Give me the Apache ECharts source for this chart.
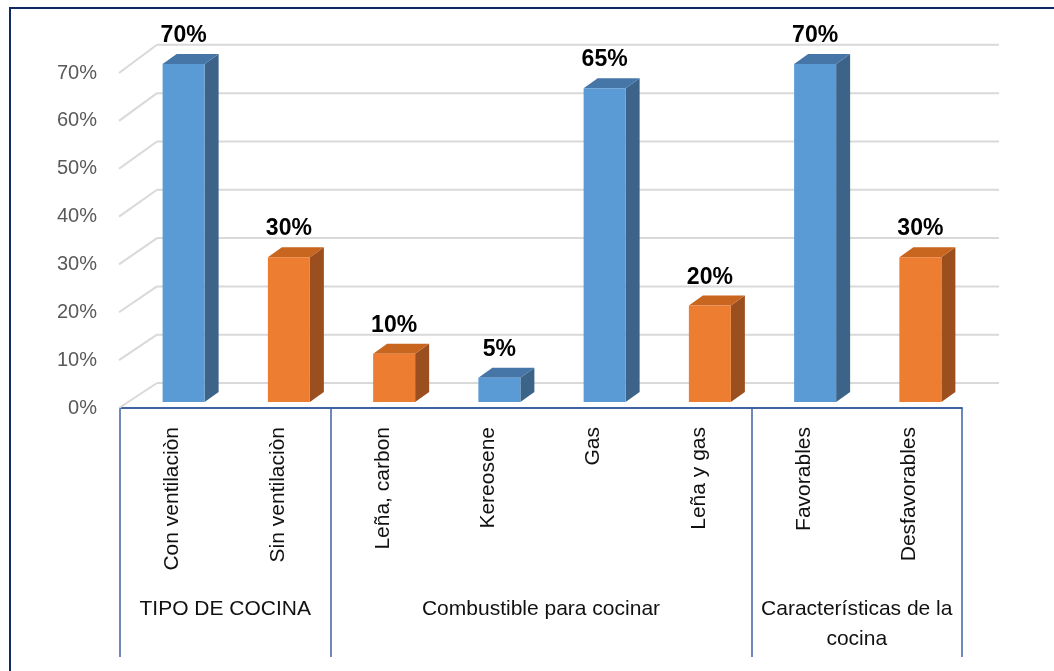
<!DOCTYPE html>
<html>
<head>
<meta charset="utf-8">
<script src="https://cdn.jsdelivr.net/npm/echarts@6/dist/echarts.min.js"></script>
<style>
  html, body { margin: 0; padding: 0; background: #ffffff; }
  #chart { width: 1054px; height: 671px; }
</style>
</head>
<body>
<div id="chart"></div>
<script>
// Categories and their groups
const categories = ['Con ventilaciòn', 'Sin ventilaciòn', 'Leña, carbon', 'Kereosene', 'Gas', 'Leña y gas', 'Favorables', 'Desfavorables'];
const groupNames = ['TIPO DE COCINA', 'Combustible para cocinar', 'Características de la\ncocina'];
const groupSizes = [2, 4, 2];

// Percent values (blue and orange bars)
const blueValues = [70, null, null, 5, 65, null, 70, null];
const orangeValues = [null, 30, 10, null, null, 20, null, 30];

// Value axis ticks
const yTicks = [0, 10, 20, 30, 40, 50, 60, 70];

// Group label positions / separators on a 0..N scale
const groupBounds = [0];
const groupCenters = [];
groupSizes.forEach(function (s) {
  const start = groupBounds[groupBounds.length - 1];
  groupCenters.push(start + s / 2);
  groupBounds.push(start + s);
});

const DEPTH_X = 37, DEPTH_Y = 25;       // floor depth
const BAR_DX = 14, BAR_DY = 10;         // bar depth
const BAR_W = 42;

function wallItem(params, api) {
  const t = api.value(1);
  const p = api.coord([0, t]);
  const y0 = api.coord([0, 0])[1];
  const left = params.coordSys.x;
  const right = params.coordSys.x + params.coordSys.width;
  const by = p[1] - DEPTH_Y - (y0 - p[1]) * 0.0095;
  const style = { stroke: '#d9d9d9', lineWidth: 2 };
  return {
    type: 'group',
    children: [
      { type: 'line', shape: { x1: left - 1, y1: p[1], x2: left + DEPTH_X, y2: by }, style: style },
      { type: 'line', shape: { x1: left + DEPTH_X, y1: by, x2: right + DEPTH_X, y2: by }, style: style }
    ]
  };
}

function barRenderer(front, top, side) {
  return function (params, api) {
    const i = api.value(0), v = api.value(1);
    const p = api.coord([i, v]);
    const b = api.coord([i, 0]);
    const cx = b[0] + 11;
    const bottom = b[1] - 6;
    const h = (b[1] - p[1]) * 1.009;
    const T = bottom - h;
    const L = cx - BAR_W / 2, R = cx + BAR_W / 2;
    return {
      type: 'group',
      children: [
        { type: 'polygon', shape: { points: [[R, T], [R + BAR_DX, T - BAR_DY], [R + BAR_DX, bottom - BAR_DY], [R, bottom]] }, style: { fill: side } },
        { type: 'polygon', shape: { points: [[L, T], [R, T], [R + BAR_DX, T - BAR_DY], [L + BAR_DX, T - BAR_DY]] }, style: { fill: top } },
        { type: 'rect', shape: { x: L, y: T, width: BAR_W, height: h }, style: { fill: front } },
        { type: 'text', style: { text: v + '%', x: cx, y: T - 28, align: 'center', verticalAlign: 'middle', fill: '#000000', font: 'bold 23px "Liberation Sans", Arial, sans-serif' } }
      ]
    };
  };
}

function toPairs(arr) {
  const out = [];
  arr.forEach(function (v, i) { if (v !== null) out.push([i, v]); });
  return out;
}

const axisBlue = '#3f62a3';
const labelFont = '"Liberation Sans", Arial, sans-serif';

const chart = echarts.init(document.getElementById('chart'), null, { renderer: 'canvas' });
chart.setOption({
  animation: false,
  backgroundColor: '#ffffff',
  graphic: [
    { type: 'rect', shape: { x: 10, y: 8, width: 1100, height: 700 }, style: { fill: 'none', stroke: '#0f2b63', lineWidth: 2 }, z: 100 }
  ],
  grid: { left: 120, right: 92, top: 73, bottom: 263, containLabel: false },
  xAxis: [
    {
      type: 'category',
      data: categories,
      boundaryGap: true,
      axisLine: { show: true, lineStyle: { color: axisBlue, width: 2 } },
      axisTick: { show: false },
      splitLine: { show: false },
      axisLabel: { rotate: 90, margin: 19, interval: 0, fontSize: 21, fontFamily: labelFont, color: '#111111' }
    },
    {
      type: 'value',
      min: 0,
      max: categories.length,
      position: 'bottom',
      axisLine: { show: false },
      splitLine: { show: false },
      axisTick: { show: true, customValues: groupBounds, length: 249, lineStyle: { color: axisBlue, width: 1.5 } },
      axisLabel: {
        customValues: groupCenters,
        margin: 186,
        fontSize: 21,
        lineHeight: 30,
        fontFamily: labelFont,
        color: '#111111',
        formatter: function (val) {
          const k = groupCenters.indexOf(val);
          return k >= 0 ? groupNames[k] : '';
        }
      }
    }
  ],
  yAxis: {
    type: 'value',
    min: 0,
    max: 70,
    interval: 10,
    axisLine: { show: false },
    axisTick: { show: false },
    splitLine: { show: false },
    axisLabel: { formatter: '{value}%', margin: 23, fontSize: 20, color: '#595959', fontFamily: '"Liberation Sans", Arial, sans-serif' }
  },
  series: [
    {
      type: 'custom',
      name: 'walls',
      xAxisIndex: 0,
      yAxisIndex: 0,
      z: 1,
      silent: true,
      renderItem: wallItem,
      data: yTicks.map(function (t) { return [0, t]; })
    },
    {
      type: 'custom',
      name: 'Azul',
      xAxisIndex: 0,
      yAxisIndex: 0,
      z: 5,
      renderItem: barRenderer('#5b9bd5', '#4676a8', '#3c6489'),
      data: toPairs(blueValues)
    },
    {
      type: 'custom',
      name: 'Naranja',
      xAxisIndex: 0,
      yAxisIndex: 0,
      z: 5,
      renderItem: barRenderer('#ed7d31', '#c8651f', '#9c4f1e'),
      data: toPairs(orangeValues)
    }
  ]
});
</script>
</body>
</html>
